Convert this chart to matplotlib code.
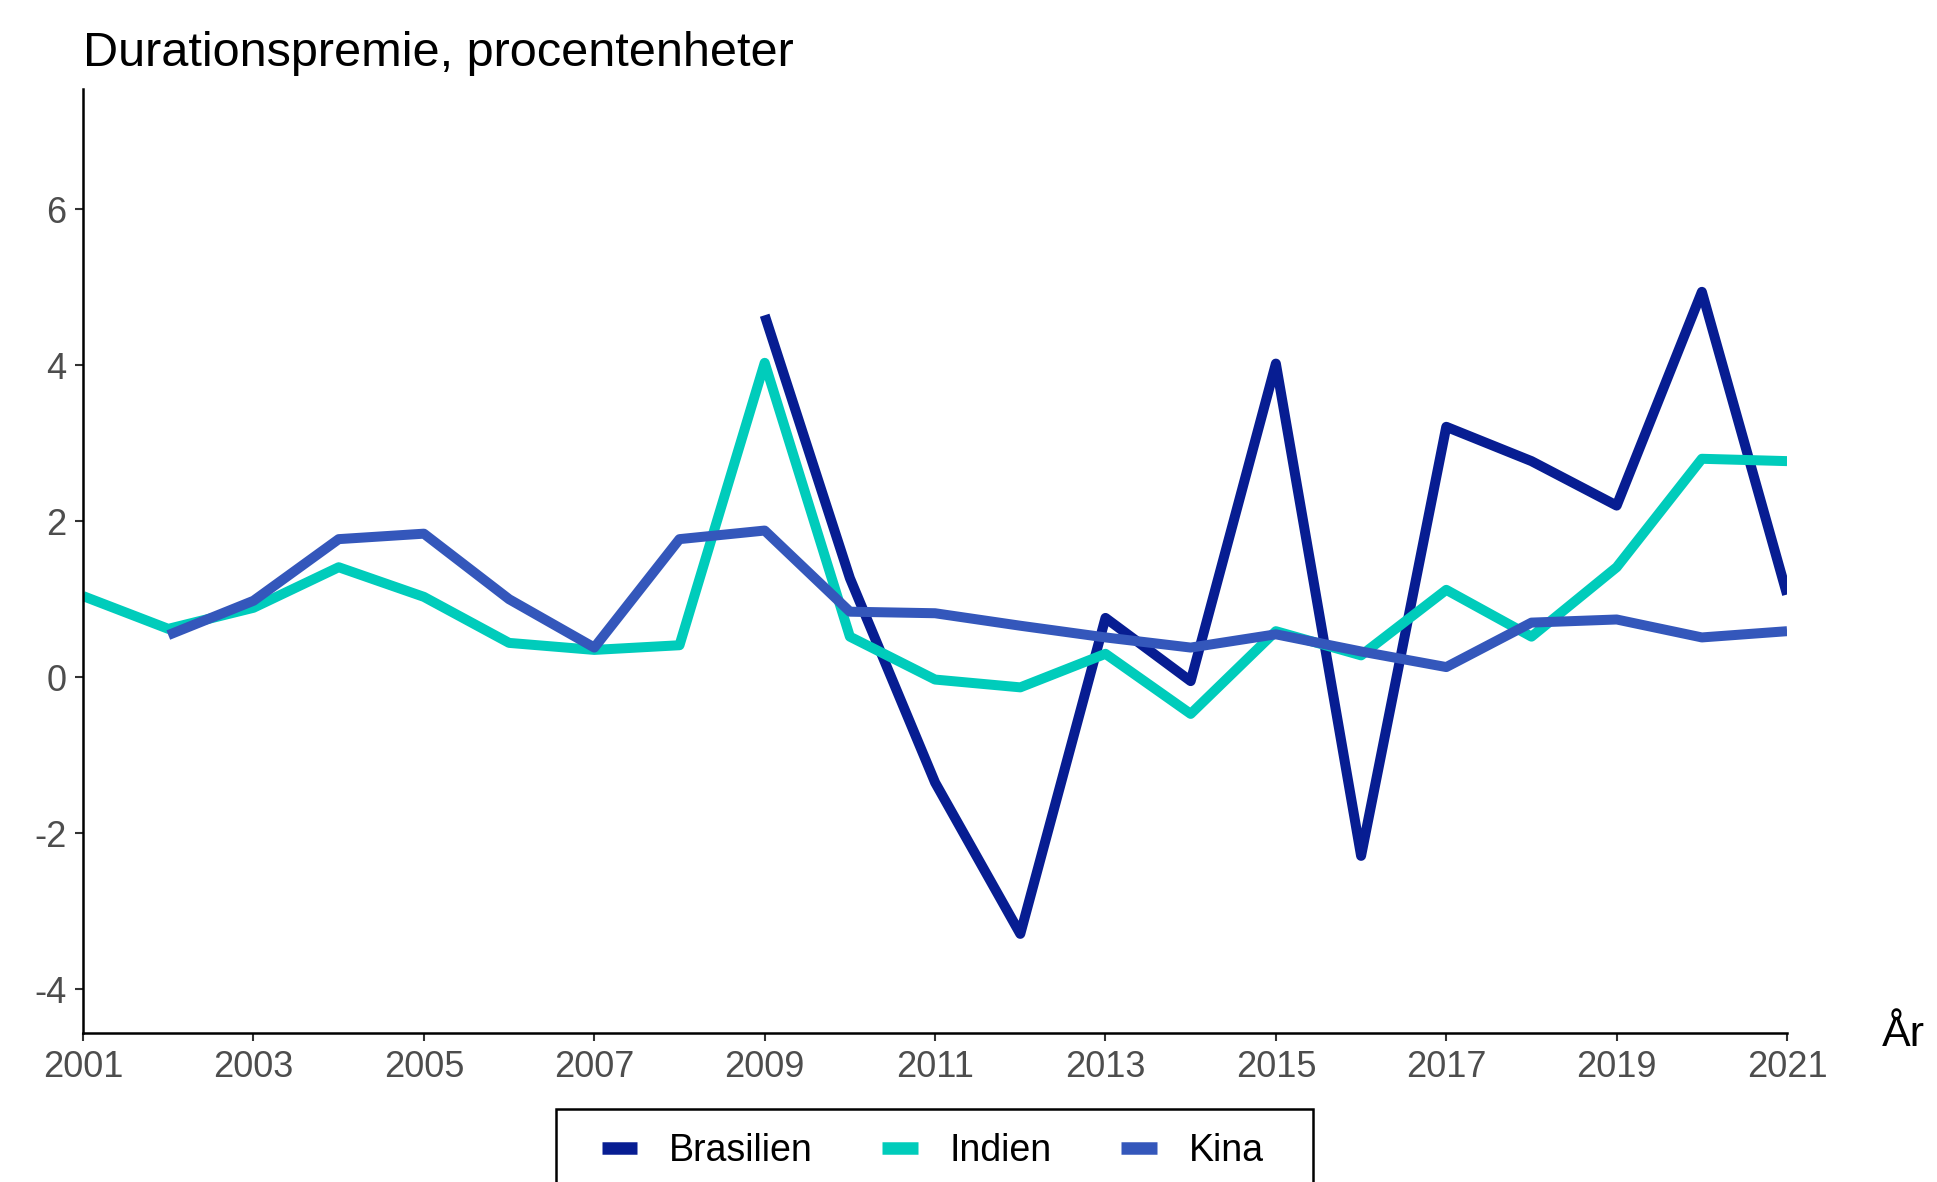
import matplotlib
matplotlib.use("Agg")
from matplotlib import pyplot
from matplotlib.patches import Rectangle

# Durationspremie, procentenheter
years = list(range(2001, 2022))

brasilien_years = list(range(2009, 2022))
brasilien = [4.64, 1.27, -1.35, -3.29, 0.76, -0.05, 4.02, -2.29, 3.21, 2.77, 2.20, 4.94, 1.06]

indien_years = list(range(2001, 2022))
indien = [1.04, 0.62, 0.89, 1.41, 1.03, 0.44, 0.35, 0.41, 4.03, 0.52, -0.03,
          -0.13, 0.30, -0.47, 0.59, 0.28, 1.12, 0.52, 1.41, 2.80, 2.77]

kina_years = list(range(2002, 2022))
kina = [0.54, 0.98, 1.77, 1.84, 1.00, 0.38, 1.77, 1.88, 0.84, 0.82, 0.66,
        0.51, 0.38, 0.55, 0.33, 0.13, 0.70, 0.74, 0.51, 0.59]

series_names = ["Brasilien", "Indien", "Kina"]
colors = ["#071d92", "#00ccbb", "#3457bb"]

x_ticks = list(range(2001, 2022, 2))
y_ticks = [-4, -2, 0, 2, 4, 6]


def main():
    pyplot.rcParams["font.family"] = ["Liberation Sans", "DejaVu Sans"]
    fig = pyplot.figure(figsize=[19.37, 11.82], dpi=100)
    ax = fig.add_axes([0.0429, 0.1261, 0.8797, 0.7986])

    data = [(brasilien_years, brasilien), (indien_years, indien), (kina_years, kina)]
    for (xs, ys), name, c in zip(data, series_names, colors):
        ax.plot(xs, ys, color=c, linewidth=7.2, label=name,
                solid_capstyle="butt", solid_joinstyle="round")

    ax.set_xlim(2001, 2021)
    ax.set_ylim(-4.56, 7.54)
    ax.set_xticks(x_ticks)
    ax.set_yticks(y_ticks)
    ax.set_xticklabels([str(t) for t in x_ticks])
    ax.set_yticklabels([str(t) for t in y_ticks])

    for side in ["top", "right"]:
        ax.spines[side].set_visible(False)
    for side in ["left", "bottom"]:
        ax.spines[side].set_linewidth(1.8)
        ax.spines[side].set_color("black")
    ax.tick_params(axis="both", direction="out", length=6, width=1.5,
                   colors="#333333", labelcolor="#4d4d4d", labelsize=26)
    ax.tick_params(axis="x", pad=6)
    ax.tick_params(axis="y", pad=6)

    fig.text(0.0429, 0.955, "Durationspremie, procentenheter", fontsize=35,
             ha="left", va="center", color="black")
    fig.text(0.9938, 0.124, "År", fontsize=31, ha="right", va="center", color="black")

    # legend box runs off the bottom edge like in the original
    fig.patches.append(Rectangle((0.287, -0.05), 0.3908, 0.1118,
                                 transform=fig.transFigure, fill=False,
                                 edgecolor="black", linewidth=1.8))
    leg = fig.legend(loc="center", bbox_to_anchor=(0.4815, 0.0262),
                     ncol=3, fontsize=27, frameon=False,
                     handlelength=0.95, handletextpad=0.85,
                     columnspacing=1.85, borderpad=0.0)
    for line in leg.get_lines():
        line.set_linewidth(9)

    fig.savefig("out.png", dpi=100)


if __name__ == '__main__':
    main()
